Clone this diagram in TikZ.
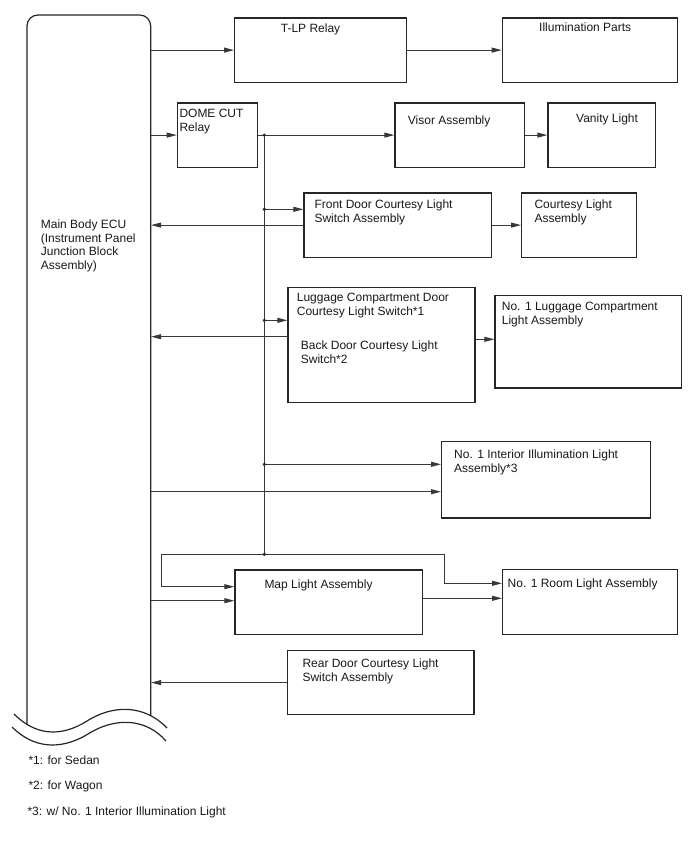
\documentclass[tikz,border=0pt]{standalone}
\usepackage{fontspec}
\setmainfont{Liberation Sans}
\usetikzlibrary{arrows.meta}
\begin{document}
\begin{tikzpicture}[x=1pt,y=-1pt,
  box/.style={draw=black!85, line width=1.2pt, rectangle, inner sep=0pt, anchor=north west},
  eculine/.style={draw=black!85, line width=1.2pt},
  wire/.style={draw=black!78, line width=0.9pt},
  arr/.style={wire, -{Triangle[length=10pt,width=5pt]}},
  txt/.style={anchor=north west, inner sep=0pt, align=left, font=\fontsize{12}{13.8}\selectfont, text=black!90},
  jdot/.style={fill=black!85}]
\useasboundingbox (0,0) rectangle (688,852);
\fill[white] (0,0) rectangle (688,852);

% ECU
\node[inner sep=0pt, minimum width=123.7pt, minimum height=710pt, anchor=north west] (ecu) at (27,15) {};
\draw[eculine, rounded corners=11pt] (27,724.4) -- (27,15) -- (150.7,15) -- (150.7,715.6);
\draw[eculine] (14,714) .. controls (35,735) and (60,738) .. (87,721) .. controls (114,704) and (145,705) .. (167,728);
\draw[eculine] (12,727) .. controls (33,748) and (60,751) .. (88,734) .. controls (115,717) and (146,718) .. (166,741);
\node[txt] (ecut) at (40.7,219.3) {Main Body ECU\\(Instrument Panel\\Junction Block\\Assembly)};

% boxes
\node[box, minimum width=172pt, minimum height=64.4pt] (tlp) at (234,17.3) {};
\node[box, minimum width=175pt, minimum height=64.4pt] (illum) at (501.7,17.3) {};
\node[box, minimum width=80pt, minimum height=64.4pt] (dome) at (176.7,102.3) {};
\node[box, minimum width=129.7pt, minimum height=64.4pt] (visor) at (394.3,102.3) {};
\node[box, minimum width=107.7pt, minimum height=64.4pt] (vanity) at (547.3,102.3) {};
\node[box, minimum width=187.4pt, minimum height=64.4pt] (front) at (303.3,192.3) {};
\node[box, minimum width=115pt, minimum height=64.4pt] (court) at (521,192.3) {};
\node[box, minimum width=187pt, minimum height=115.3pt] (lug) at (287.3,286.7) {};
\node[box, minimum width=186.7pt, minimum height=92.3pt] (lug1) at (494.3,295) {};
\node[box, minimum width=209pt, minimum height=76.3pt] (int) at (441,441) {};
\node[box, minimum width=187.4pt, minimum height=64.7pt] (map) at (234.3,569.3) {};
\node[box, minimum width=174.7pt, minimum height=65.3pt] (room) at (502,568.7) {};
\node[box, minimum width=186.6pt, minimum height=64pt] (rear) at (286.7,650) {};

% texts
\node[txt] (tlpt) at (280.7,24) {T-LP Relay};
\node[txt] (illumt) at (539,22.3) {Illumination Parts};
\node[txt] (domet) at (179.3,109) {DOME CUT\\Relay};
\node[txt] (visort) at (407.7,115.3) {Visor Assembly};
\node[txt] (vanityt) at (576,113.3) {Vanity Light};
\node[txt] (frontt) at (314.3,200) {Front Door Courtesy Light\\Switch Assembly};
\node[txt] (courtt) at (534.3,199.3) {Courtesy Light\\Assembly};
\node[txt] (lugt) at (296.7,292.7) {Luggage Compartment Door\\Courtesy Light Switch*1};
\node[txt] (backt) at (300.7,340.7) {Back Door Courtesy Light\\Switch*2};
\node[txt] (lug1t) at (501.7,302) {No. 1 Luggage Compartment\\Light Assembly};
\node[txt] (intt) at (454,449.3) {No. 1 Interior Illumination Light\\Assembly*3};
\node[txt] (mapt) at (264.3,580) {Map Light Assembly};
\node[txt] (roomt) at (507.5,578.3) {No. 1 Room Light Assembly};
\node[txt] (reart) at (302.3,658.3) {Rear Door Courtesy Light\\Switch Assembly};

% footnotes
\node[txt] (fn1) at (28.3,755.7) {*1: for Sedan};
\node[txt] (fn2) at (28.3,781) {*2: for Wagon};
\node[txt] (fn3) at (27.3,806.7) {*3: w/ No. 1 Interior Illumination Light};

% ECU connectors
\draw[arr] (ecu.east |- tlp.west) -- (tlp.west);
\draw[arr] (tlp.east) -- (illum.west);
\draw[arr] (ecu.east |- dome.west) -- (dome.west);
\draw[arr] (dome.east) -- (visor.west);
\draw[arr] (visor.east) -- (vanity.west);
\draw[arr] (front.west) -- (front.west -| ecu.east);
\draw[arr] (front.east) -- (court.west);
\coordinate (lo) at (lug.west |- 0,336.7);
\draw[arr] (lo) -- (lo -| ecu.east);
\coordinate (le) at (lug.east |- 0,339.3);
\draw[arr] (le) -- (le -| lug1.west);
\coordinate (ie) at (ecu.east |- 0,491.7);
\draw[arr] (ie) -- (ie -| int.west);
\coordinate (me) at (ecu.east |- 0,600.7);
\draw[arr] (me) -- (me -| map.west);
\coordinate (mr) at (map.east |- 0,598.3);
\draw[arr] (mr) -- (mr -| room.west);
\draw[arr] (rear.west) -- (rear.west -| ecu.east);

% bus
\coordinate (busx) at (264.3,0);
\coordinate (b0) at (dome.east -| busx);
\coordinate (b1) at (264.3,209.3);
\coordinate (b2) at (264.3,320.3);
\coordinate (b3) at (264.3,464.3);
\coordinate (b4) at (264.3,554.3);
\draw[wire] (b0) -- (b4);
\draw[arr] (b1) -- (b1 -| front.west);
\draw[arr] (b2) -- (b2 -| lug.west);
\draw[arr] (b3) -- (b3 -| int.west);
\coordinate (bl) at (161,554.3);
\coordinate (br) at (444.3,554.3);
\coordinate (ml) at (161,586.7);
\coordinate (rl) at (444.3,583.3);
\draw[wire] (bl) -- (br);
\draw[arr] (bl) -- (ml) -- (ml -| map.west);
\draw[arr] (br) -- (rl) -- (rl -| room.west);
\foreach \p in {b0,b1,b2,b3,b4} \fill[jdot] (\p) circle[radius=1.8pt];
\end{tikzpicture}
\end{document}
